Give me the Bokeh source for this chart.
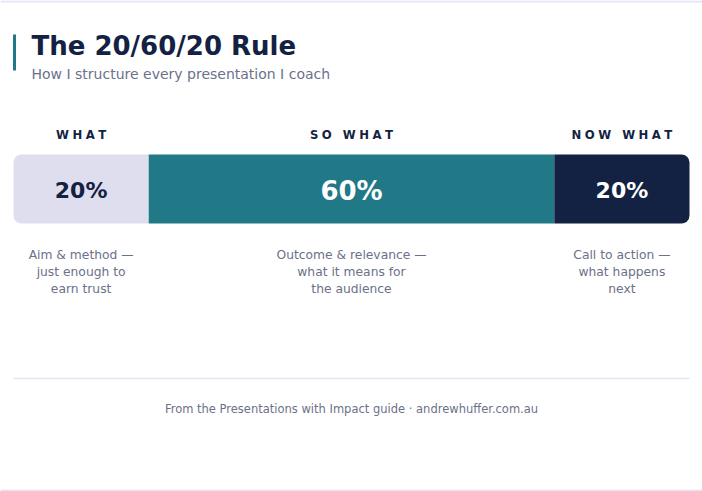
from bokeh.core.properties import value
from bokeh.embed import file_html
from bokeh.models import ColumnDataSource, Range1d, Span
from bokeh.plotting import figure
from bokeh.resources import INLINE

# chart data
stages = ["WHAT", "SO WHAT", "NOW WHAT"]
shares = [20, 60, 20]
share_labels = ["20%", "60%", "20%"]
descriptions = [
    "Aim & method \u2014\njust enough to\nearn trust",
    "Outcome & relevance \u2014\nwhat it means for\nthe audience",
    "Call to action \u2014\nwhat happens\nnext",
]

title = "The 20/60/20 Rule"
subtitle = "How I structure every presentation I coach"
footer = "From the Presentations with Impact guide \u00b7 andrewhuffer.com.au"

NAVY = "#132242"
TEAL = "#217887"
LAVENDER = "#dfdeee"
RULE = "#e7e5f5"
GREY = "#6b7189"
FONT = value("DejaVu Sans")

seg_colors = [LAVENDER, TEAL, NAVY]
label_colors = [NAVY, "white", "white"]
label_sizes = ["22px", "26px", "22px"]

W, H = 702, 491
px = 6.76  # pixels per percent point
pad = 13 / px

p = figure(width=W, height=H, output_backend="svg", toolbar_location=None,
           x_range=Range1d(-pad, 100 + pad), y_range=Range1d(H, 0),
           min_border=0)
p.axis.visible = False
p.grid.visible = False
p.background_fill_color = "white"
p.border_fill_color = "white"
p.outline_line_color = None

# thin page rules top and bottom
p.add_layout(Span(location=1, dimension="width", line_color=RULE, line_width=2))
p.add_layout(Span(location=H - 1, dimension="width", line_color=RULE, line_width=2))

# segment positions from the shares
lefts, rights = [], []
acc = 0
for s in shares:
    lefts.append(acc)
    acc += s
    rights.append(acc)
centers = [(l + r) / 2 for l, r in zip(lefts, rights)]

bar_top, bar_bottom = 154, 223
radii = [(8, 0, 0, 8), 0, (0, 8, 8, 0)]
for i in range(len(shares)):
    p.quad(left=lefts[i], right=rights[i], top=bar_top, bottom=bar_bottom,
           fill_color=seg_colors[i], line_color=None, border_radius=radii[i])

src = ColumnDataSource(dict(
    x=centers,
    stage=["\u2009\u200a".join(list(s)) for s in stages],
    label=share_labels,
    lcolor=label_colors,
    lsize=label_sizes,
    desc=descriptions,
))

p.text(x="x", y=134, text="stage", source=src, text_font=FONT,
       text_font_size="11.7px", text_font_style="bold", text_color=NAVY,
       text_align="center", text_baseline="middle")
p.text(x="x", y=190, text="label", source=src, text_font=FONT,
       text_font_size="lsize", text_font_style="bold", text_color="lcolor",
       text_align="center", text_baseline="middle")
p.text(x="x", y=247, text="desc", source=src, text_font=FONT,
       text_font_size="12.3px", text_color=GREY, text_line_height=1.22,
       text_align="center", text_baseline="top")

# header
p.segment(x0=1 / px, y0=34, x1=1 / px, y1=70, line_color=TEAL, line_width=3)
p.text(x=[18 / px], y=[45], text=[title], text_font=FONT,
       text_font_size="26px", text_font_style="bold", text_color=NAVY,
       text_baseline="middle")
p.text(x=[18 / px], y=[73], text=[subtitle], text_font=FONT,
       text_font_size="14px", text_color=GREY, text_baseline="middle")

# footer
p.segment(x0=0, y0=378, x1=100, y1=378, line_color=RULE, line_width=1.5)
p.text(x=[50], y=[408], text=[footer], text_font=FONT,
       text_font_size="11.5px", text_color=GREY, text_align="center",
       text_baseline="middle")

open("out.html", "w").write(file_html(p, INLINE))
